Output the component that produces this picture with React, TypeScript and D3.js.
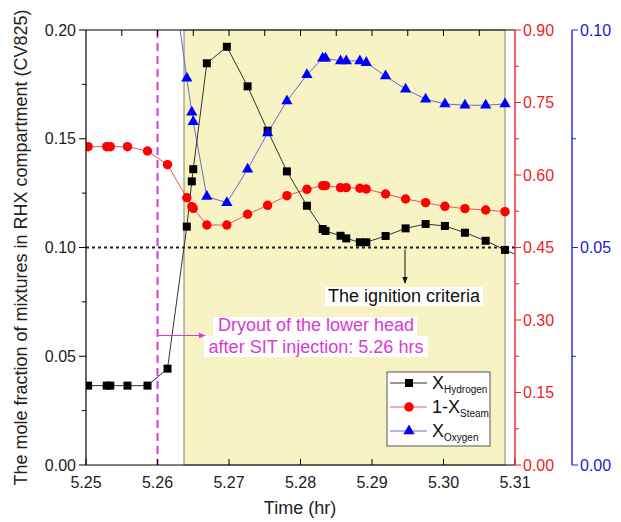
import * as d3 from 'd3';
import React from 'react';

// time (hr) of each saved point
const time = [5.2503, 5.2529, 5.2534, 5.2558, 5.2586, 5.2614, 5.2641, 5.2648, 5.2650, 5.2669, 5.2697, 5.2726, 5.2754, 5.2781, 5.2809, 5.2831, 5.2835, 5.2856, 5.2864, 5.2883, 5.2892, 5.2919, 5.2947, 5.2975, 5.3002, 5.3030, 5.3059, 5.3086];
// hydrogen goes one step past the axis end
const timeH = [...time, 5.3114];
const hydrogen = [0.0365, 0.0365, 0.0365, 0.0365, 0.0365, 0.0443, 0.1096, 0.1304, 0.1360, 0.1847, 0.1923, 0.1741, 0.1537, 0.1350, 0.1192, 0.1085, 0.1076, 0.1054, 0.1042, 0.1024, 0.1024, 0.1053, 0.1088, 0.1108, 0.1099, 0.1068, 0.1031, 0.0989, 0.0949];
const steam = [0.6586, 0.6586, 0.6586, 0.6586, 0.6497, 0.6214, 0.5530, 0.5345, 0.5310, 0.4966, 0.4966, 0.5187, 0.5373, 0.5572, 0.5704, 0.5780, 0.5780, 0.5738, 0.5738, 0.5725, 0.5710, 0.5607, 0.5504, 0.5428, 0.5352, 0.5304, 0.5276, 0.5241];
const oxygen = [0.125, 0.125, 0.125, 0.125, 0.124, 0.121, 0.0889, 0.0811, 0.0789, 0.0617, 0.0603, 0.0680, 0.0763, 0.0837, 0.0897, 0.0935, 0.0935, 0.0929, 0.0929, 0.0929, 0.0925, 0.0894, 0.0864, 0.0841, 0.0830, 0.0827, 0.0827, 0.0830];

const xTicks = [5.25, 5.26, 5.27, 5.28, 5.29, 5.30, 5.31];
const leftTicks = [0, 0.05, 0.1, 0.15, 0.2];
const redTicks = [0, 0.15, 0.3, 0.45, 0.6, 0.75, 0.9];
const blueTicks = [0, 0.05, 0.1];

const dryoutTime = 5.26;
const ignition = 0.1;
const shadeRange = [5.26371, 5.3086];

const FONT = 'Liberation Sans, Arial, sans-serif';
const RED = '#ea1f26';
const BLUE = '#2020d8';
const MAG = '#d63bd6';

export default function App() {
  const L = 86, R = 515, T = 30, B = 465;
  const x = d3.scaleLinear().domain([5.25, 5.31]).range([L, R]);
  const yL = d3.scaleLinear().domain([0, 0.2]).range([B, T]);
  const yR = d3.scaleLinear().domain([0, 0.9]).range([B, T]);
  const yB = d3.scaleLinear().domain([0, 0.1]).range([B, T]);
  const blueX = 572;

  const lineH = d3.line<number>().x((d, i) => x(timeH[i])).y(d => yL(d));
  const lineS = d3.line<number>().x((d, i) => x(time[i])).y(d => yR(d));
  const lineO = d3.line<number>().x((d, i) => x(time[i])).y(d => yB(d));
  const tri = d3.symbol(d3.symbolTriangle, 55)();

  const fmt2 = d3.format('.2f');
  const mid = (arr: number[]) => arr.slice(1).map((v, i) => (v + arr[i]) / 2);

  return (
    <svg width={621} height={522} style={{ position: 'absolute', left: 0, top: 0, background: '#fff' }} fontFamily={FONT}>
      <defs>
        <clipPath id="plot"><rect x={L} y={T} width={R - L} height={B - T} /></clipPath>
        <marker id="arrK" viewBox="0 0 10 10" refX="9" refY="5" markerWidth="7" markerHeight="7" orient="auto">
          <path d="M0,1 L10,5 L0,9 z" fill="#111" />
        </marker>
        <marker id="arrM" viewBox="0 0 10 10" refX="9" refY="5" markerWidth="7" markerHeight="7" orient="auto">
          <path d="M0,1 L10,5 L0,9 z" fill={MAG} />
        </marker>
      </defs>

      {/* shaded period */}
      <rect x={x(shadeRange[0])} y={T} width={x(shadeRange[1]) - x(shadeRange[0])} height={B - T}
        fill="#f7f3c4" stroke="#9c9880" strokeWidth={1.2} />

      {/* ignition criteria + dryout lines */}
      <line x1={L} x2={R} y1={yL(ignition)} y2={yL(ignition)} stroke="#222" strokeWidth={2} strokeDasharray="3,3" />
      <line x1={x(dryoutTime)} x2={x(dryoutTime)} y1={T} y2={B} stroke={MAG} strokeWidth={2} strokeDasharray="8,5" />

      <g clipPath="url(#plot)">
        <path d={lineO(oxygen)!} fill="none" stroke="#6a6ad0" strokeWidth={1} />
        <path d={lineS(steam)!} fill="none" stroke="#ee5555" strokeWidth={1} />
        <path d={lineH(hydrogen)!} fill="none" stroke="#333" strokeWidth={1} />
        {steam.map((v, i) => <circle key={'s' + i} cx={x(time[i])} cy={yR(v)} r={4.7} fill="#ff0000" />)}
        {hydrogen.map((v, i) => <rect key={'h' + i} x={x(timeH[i]) - 4} y={yL(v) - 4} width={8} height={8} fill="#000" />)}
        {oxygen.map((v, i) => <path key={'o' + i} d={tri!} transform={`translate(${x(time[i])},${yB(v)})`} fill="#0000ff" />)}
      </g>

      {/* frame + bottom/top axes */}
      <line x1={L} x2={R} y1={T} y2={T} stroke="#000" strokeWidth={1.2} />
      <line x1={L} x2={R} y1={B} y2={B} stroke="#000" strokeWidth={1.2} />
      {xTicks.map(t => (
        <g key={'x' + t}>
          <line x1={x(t)} x2={x(t)} y1={B} y2={B - 6} stroke="#000" />
          <text x={x(t)} y={488} textAnchor="middle" fontSize={16} fill="#222">{fmt2(t)}</text>
        </g>
      ))}
      {d3.range(5.255, 5.31, 0.005).map(t => (
        <line key={'tx' + t} x1={x(t)} x2={x(t)} y1={T} y2={T + 6} stroke="#000" />
      ))}
      <text x={300} y={514} textAnchor="middle" fontSize={18} fill="#222">Time (hr)</text>

      {/* left axis */}
      <line x1={L} x2={L} y1={T} y2={B} stroke="#000" strokeWidth={1.2} />
      {leftTicks.map(v => (
        <g key={'l' + v}>
          <line x1={L - 7} x2={L} y1={yL(v)} y2={yL(v)} stroke="#000" />
          <text x={L - 10} y={yL(v) + 5.5} textAnchor="end" fontSize={16} fill="#222">{fmt2(v)}</text>
        </g>
      ))}
      {mid(leftTicks).map(v => <line key={'lm' + v} x1={L - 4} x2={L} y1={yL(v)} y2={yL(v)} stroke="#000" />)}
      <text transform={`translate(27,${(T + B) / 2 + 0}) rotate(-90)`} textAnchor="middle" fontSize={18} fill="#222">
        The mole fraction of mixtures in RHX compartment (CV825)
      </text>

      {/* red axis */}
      <line x1={R} x2={R} y1={T} y2={B} stroke={RED} strokeWidth={1.4} />
      {redTicks.map(v => (
        <g key={'r' + v}>
          <line x1={R} x2={R + 6} y1={yR(v)} y2={yR(v)} stroke={RED} />
          <text x={R + 8} y={yR(v) + 5.5} fontSize={16} fill={RED}>{fmt2(v)}</text>
        </g>
      ))}
      {mid(redTicks).map(v => <line key={'rm' + v} x1={R} x2={R + 4} y1={yR(v)} y2={yR(v)} stroke={RED} />)}

      {/* blue axis */}
      <line x1={blueX} x2={blueX} y1={T} y2={B} stroke={BLUE} strokeWidth={1.4} />
      {blueTicks.map(v => (
        <g key={'b' + v}>
          <line x1={blueX} x2={blueX + 6} y1={yB(v)} y2={yB(v)} stroke={BLUE} />
          <text x={blueX + 8} y={yB(v) + 5.5} fontSize={16} fill={BLUE}>{fmt2(v)}</text>
        </g>
      ))}
      {mid(blueTicks).map(v => <line key={'bm' + v} x1={blueX} x2={blueX + 4} y1={yB(v)} y2={yB(v)} stroke={BLUE} />)}

      {/* annotations */}
      <line x1={405} x2={405} y1={yL(ignition) + 2} y2={283} stroke="#111" strokeWidth={1} markerEnd="url(#arrK)" />
      <rect x={325} y={287} width={158} height={19} fill="#fff" />
      <text x={404} y={302} textAnchor="middle" fontSize={18} fill="#111">The ignition criteria</text>

      <line x1={x(dryoutTime)} x2={205} y1={335.5} y2={335.5} stroke={MAG} strokeWidth={1} markerEnd="url(#arrM)" />
      <rect x={213} y={317} width={204} height={19} fill="#fff" />
      <rect x={204} y={336} width={224} height={21} fill="#fff" />
      <text x={316} y={331} textAnchor="middle" fontSize={18} fill={MAG}>Dryout of the lower head</text>
      <text x={316} y={353} textAnchor="middle" fontSize={18} fill={MAG}>after SIT injection: 5.26 hrs</text>

      {/* legend */}
      <g>
        <rect x={387} y={372} width={103} height={74} fill="#fff" stroke="#555" strokeWidth={1} />
        <line x1={390} x2={427} y1={383} y2={383} stroke="#333" />
        <rect x={405} y={379} width={8} height={8} fill="#000" />
        <text x={432} y={389} fontSize={18} fill="#111">X<tspan fontSize={10} dy={4}>Hydrogen</tspan></text>

        <line x1={390} x2={427} y1={407} y2={407} stroke="#ee5555" />
        <circle cx={409} cy={407} r={4.7} fill="#ff0000" />
        <text x={432} y={413} fontSize={18} fill="#111">1-X<tspan fontSize={10} dy={4}>Steam</tspan></text>

        <line x1={390} x2={427} y1={431} y2={431} stroke="#6a6ad0" />
        <path d={tri!} transform="translate(409,431)" fill="#0000ff" />
        <text x={432} y={437} fontSize={18} fill="#111">X<tspan fontSize={10} dy={4}>Oxygen</tspan></text>
      </g>
    </svg>
  );
}
